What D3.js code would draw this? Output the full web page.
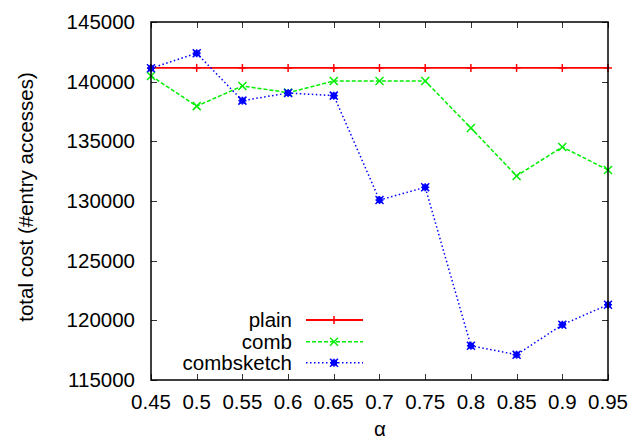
<!DOCTYPE html>
<html>
<head>
<meta charset="utf-8">
<script src="https://cdn.jsdelivr.net/npm/d3@7"></script>
<style>
  html, body { margin: 0; padding: 0; background: #fff; }
  text { font-family: "Liberation Sans", Arial, sans-serif; fill: #000; }
</style>
</head>
<body>
<svg id="chart" width="644" height="442"></svg>
<script>
const alphas = [0.45, 0.5, 0.55, 0.6, 0.65, 0.7, 0.75, 0.8, 0.85, 0.9, 0.95];
const plain = [141150, 141150, 141150, 141150, 141150, 141150, 141150, 141150, 141150, 141150, 141150];
const comb = [140480, 137950, 139640, 139080, 140050, 140050, 140050, 136120, 132100, 134530, 132600];
const combsketch = [141120, 142380, 138410, 139050, 138830, 130080, 131150, 117870, 117120, 119630, 121310];
const xTicks = [0.45, 0.5, 0.55, 0.6, 0.65, 0.7, 0.75, 0.8, 0.85, 0.9, 0.95];
const yTicks = [115000, 120000, 125000, 130000, 135000, 140000, 145000];
const seriesNames = ["plain", "comb", "combsketch"];

const svg = d3.select("#chart");
const L = 151, R = 608, T = 22, B = 380;
const FS = 20.5;

const x = d3.scaleLinear().domain([0.45, 0.95]).range([L, R]);
const y = d3.scaleLinear().domain([115000, 145000]).range([B, T]);

function label(parent, tx, ty, str, anchor, rot) {
  parent.append("text")
    .attr("transform", `translate(${tx},${ty})` + (rot ? ` rotate(${rot})` : ""))
    .attr("text-anchor", anchor)
    .style("font-size", FS + "px")
    .text(str);
}

// ticks (inward, mirrored)
const tickG = svg.append("g").attr("stroke", "#333").attr("stroke-width", 1);
xTicks.forEach(t => {
  const px = Math.round(x(t)) + 0.5;
  tickG.append("line").attr("x1", px).attr("x2", px).attr("y1", B).attr("y2", B - 6);
  tickG.append("line").attr("x1", px).attr("x2", px).attr("y1", T).attr("y2", T + 6);
});
yTicks.forEach(t => {
  const py = Math.round(y(t)) + 0.5;
  tickG.append("line").attr("x1", L).attr("x2", L + 6).attr("y1", py).attr("y2", py);
  tickG.append("line").attr("x1", R).attr("x2", R - 6).attr("y1", py).attr("y2", py);
});

// tick labels
xTicks.forEach(t => label(svg, x(t), 409, String(t), "middle"));
yTicks.forEach(t => label(svg, 135, y(t) + 7, String(t), "end"));

// axis labels
label(svg, 380, 436, "α", "middle");
label(svg, 33, 197, "total cost (#entry accesses)", "middle", -90);

// series
const styles = [
  { data: plain, color: "#ff0000", dash: null, width: 1.8, marker: "plus" },
  { data: comb, color: "#00ee00", dash: "4,2", width: 1.5, marker: "cross" },
  { data: combsketch, color: "#0000ff", dash: "1.5,2.5", width: 1.5, marker: "star" }
];

function drawMarker(g, cx, cy, type, color) {
  const s = 4;
  const m = g.append("g").attr("stroke", color).attr("stroke-width", 1.5).attr("fill", "none");
  if (type === "plus" || type === "star") {
    m.append("line").attr("x1", cx - s).attr("x2", cx + s).attr("y1", cy).attr("y2", cy);
    m.append("line").attr("x1", cx).attr("x2", cx).attr("y1", cy - s).attr("y2", cy + s);
  }
  if (type === "cross" || type === "star") {
    m.append("line").attr("x1", cx - s).attr("x2", cx + s).attr("y1", cy - s).attr("y2", cy + s);
    m.append("line").attr("x1", cx - s).attr("x2", cx + s).attr("y1", cy + s).attr("y2", cy - s);
  }
  if (type === "star") {
    m.append("rect").attr("x", cx - 3).attr("y", cy - 3).attr("width", 6).attr("height", 6).attr("fill", color).attr("stroke", "none");
  }
}

const line = d3.line().x((d, i) => x(alphas[i])).y(d => y(d));
const plotG = svg.append("g");
styles.forEach(st => {
  plotG.append("path").datum(st.data).attr("d", line)
    .attr("fill", "none").attr("stroke", st.color).attr("stroke-width", st.width)
    .attr("stroke-dasharray", st.dash);
  st.data.forEach((v, i) => drawMarker(plotG, x(alphas[i]), y(v), st.marker, st.color));
});

// legend
const legY = [320, 341.7, 362.7];
styles.forEach((st, i) => {
  label(svg, 292, legY[i] + 7, seriesNames[i], "end");
  svg.append("line").attr("x1", 306).attr("x2", 363).attr("y1", legY[i]).attr("y2", legY[i])
    .attr("stroke", st.color).attr("stroke-width", st.width).attr("stroke-dasharray", st.dash);
  drawMarker(svg, 334, legY[i], st.marker, st.color);
});

// frame
svg.append("rect").attr("x", L).attr("y", T).attr("width", R - L).attr("height", B - T)
  .attr("fill", "none").attr("stroke", "#000").attr("stroke-width", 1.5);
</script>
</body>
</html>
